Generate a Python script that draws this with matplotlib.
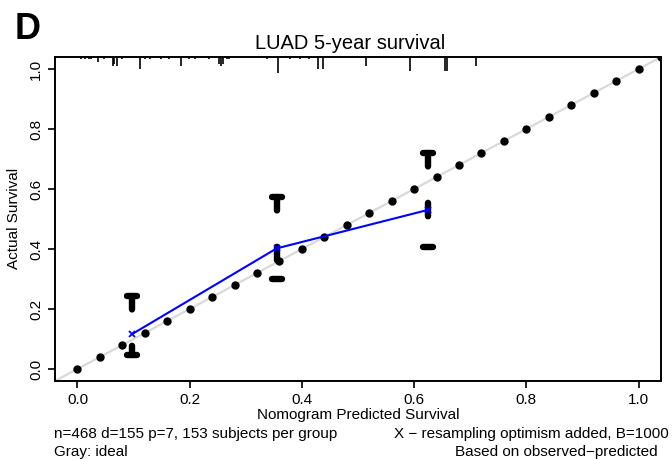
import numpy as np
import matplotlib
matplotlib.use('Agg')
import matplotlib.pyplot as plt

plt.rcParams['font.family'] = ['Liberation Sans', 'DejaVu Sans']

# calibration groups (mean predicted, observed, error bar limits)
pred = [0.098, 0.355, 0.624]
obs = [0.117, 0.402, 0.530]
err_hi = [0.244, 0.574, 0.719]
err_lo = [0.047, 0.300, 0.407]

# ideal reference dots
ideal = np.linspace(0, 1.04, 27)

# distribution of predicted risks (top spike histogram)
rug_x = [0.007, 0.014, 0.020, 0.025, 0.037, 0.047, 0.063, 0.066, 0.071, 0.080,
         0.112, 0.121, 0.130, 0.149, 0.163, 0.185, 0.198, 0.210, 0.234, 0.253,
         0.256, 0.260, 0.266, 0.270, 0.338, 0.358, 0.379, 0.397, 0.413, 0.429,
         0.437, 0.515, 0.593, 0.655, 0.659, 0.711]
rug_n = [1, 1, 1, 1, 2, 1, 4, 3, 4, 1,
         5, 1, 1, 1, 1, 4, 1, 1, 1, 3,
         4, 3, 1, 1, 1, 7, 1, 1, 1, 5,
         5, 4, 6, 6, 6, 4]

W, H = 672, 459
fig = plt.figure(figsize=(W / 100, H / 100), dpi=100)
ax = fig.add_axes([55 / W, 1 - 381 / H, 606 / W, 324 / H])
ax.set_xlim(-0.04, 1.04)
ax.set_ylim(-0.04, 1.04)

# ideal line
ax.plot([-0.04, 1.04], [-0.04, 1.04], color='#d9d9d9', lw=1.6, zorder=1)
ax.plot(ideal, ideal, 'o', color='black', ms=5, zorder=2)

# spikes at top
ax.vlines(rug_x, 1.04, 1.04 - np.array(rug_n) * 0.0077, color='black', lw=1.2, zorder=3)

# error bars (dashed, thick)
for x, lo, hi in zip(pred, err_lo, err_hi):
    ax.plot([x, x], [hi, lo], color='black', lw=4.6,
            linestyle=(0, (2.1, 5.7)), dash_capstyle='round', zorder=3)
    for yy in (lo, hi):
        ax.plot([x - 0.009, x + 0.009], [yy, yy], color='black', lw=4.6,
                solid_capstyle='round', zorder=3)

# calibration curve
ax.plot(pred, obs, color='#0000ff', lw=1.5, marker='x', ms=5, mew=1.3, zorder=4)

ax.set_xticks([0, 0.2, 0.4, 0.6, 0.8, 1.0])
ax.set_yticks([0, 0.2, 0.4, 0.6, 0.8, 1.0])
ax.set_xticklabels(['0.0', '0.2', '0.4', '0.6', '0.8', '1.0'])
ax.set_yticklabels(['0.0', '0.2', '0.4', '0.6', '0.8', '1.0'])
ax.tick_params(direction='out', length=5, width=1.2, labelsize=11, pad=3.5)
plt.setp(ax.get_yticklabels(), rotation=90, va='center')
for s in ax.spines.values():
    s.set_linewidth(1.4)

ax.set_title('LUAD 5-year survival', fontsize=14.5, pad=6, x=(350 - 55) / 606)
ax.set_xlabel('Nomogram Predicted Survival', fontsize=11, labelpad=1)
fig.text(14 / W, 1 - 218 / H, 'Actual Survival', rotation=90, fontsize=11,
         ha='center', va='center')

fig.text(54 / W, 1 - 434 / H, 'n=468 d=155 p=7, 153 subjects per group',
         fontsize=11, ha='left', va='center')
fig.text(54 / W, 1 - 452 / H, 'Gray: ideal', fontsize=11, ha='left', va='center')
fig.text(669 / W, 1 - 434 / H, 'X \u2212 resampling optimism added, B=1000',
         fontsize=11, ha='right', va='center')
fig.text(658 / W, 1 - 452 / H, 'Based on observed\u2212predicted',
         fontsize=11, ha='right', va='center')

fig.text(15 / W, 1 - 39 / H, 'D', fontsize=26, fontweight='bold',
         ha='left', va='baseline')

fig.savefig('out.png', dpi=100)
